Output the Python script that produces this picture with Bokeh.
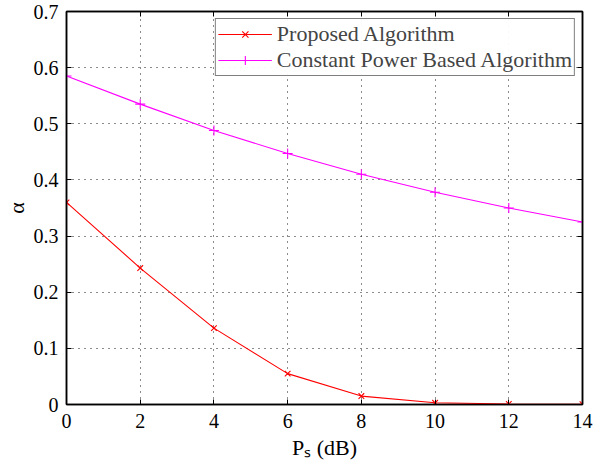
from bokeh.plotting import figure
from bokeh.models import LinearAxis, Range1d, FixedTicker, Legend, LegendItem
from bokeh.embed import file_html
from bokeh.resources import INLINE

ps_db = [0, 2, 4, 6, 8, 10, 12, 14]
proposed = [0.36, 0.243, 0.136, 0.055, 0.015, 0.003, 0.001, 0.0005]
constant = [0.585, 0.535, 0.488, 0.447, 0.41, 0.378, 0.35, 0.325]
x_ticks = [0, 2, 4, 6, 8, 10, 12, 14]
y_ticks = [0, 0.1, 0.2, 0.3, 0.4, 0.5, 0.6, 0.7]

FONT = "Liberation Serif"
TICK_FS = "20px"
TEXT_FS = "22px"

p = figure(width=594, height=465, output_backend="svg", toolbar_location=None,
           x_range=Range1d(0, 14), y_range=Range1d(0, 0.7),
           min_border_left=66, min_border_right=12, min_border_top=11, min_border_bottom=61,
           x_axis_location=None, y_axis_location=None)
p.outline_line_color = "black"
p.outline_line_width = 1.5
p.background_fill_color = "white"
p.border_fill_color = "white"

def make_axis(ticks, labels=True):
    ax = LinearAxis(ticker=FixedTicker(ticks=ticks))
    ax.major_tick_in = 5
    ax.major_tick_out = 0
    ax.minor_tick_in = 0
    ax.minor_tick_out = 0
    ax.axis_line_color = "black"
    ax.axis_line_width = 1.5
    ax.major_tick_line_color = "black"
    ax.major_tick_line_width = 1
    ax.major_label_text_font = FONT
    ax.major_label_text_font_size = TICK_FS
    ax.major_label_text_color = "black"
    ax.axis_label_text_font = FONT
    ax.axis_label_text_font_size = TEXT_FS
    ax.axis_label_text_font_style = "normal"
    ax.axis_label_text_color = "black"
    if not labels:
        ax.major_label_overrides = {t: "" for t in ticks}
        ax.major_label_text_font_size = "1px"
        ax.major_label_standoff = 0
    return ax

xb = make_axis(x_ticks)
xb.major_label_standoff = 9
xb.axis_label = "Pₛ (dB)"
xb.axis_label_standoff = 4
yl = make_axis(y_ticks)
yl.major_label_standoff = 8
yl.axis_label = "α"
yl.axis_label_standoff = 2
p.add_layout(xb, "below")
p.add_layout(yl, "left")
p.add_layout(make_axis(x_ticks, labels=False), "above")
p.add_layout(make_axis(y_ticks, labels=False), "right")

p.xgrid.ticker = FixedTicker(ticks=x_ticks)
p.ygrid.ticker = FixedTicker(ticks=y_ticks)
for g in (p.xgrid, p.ygrid):
    g.grid_line_color = "black"
    g.grid_line_dash = "1 5"
    g.grid_line_width = 1
    g.grid_line_alpha = 0.9

r1l = p.line(ps_db, proposed, line_color="#ff0000", line_width=1.1)
r1m = p.scatter(ps_db, proposed, marker="x", size=8, line_color="#ff0000", line_width=1.1)
r2l = p.line(ps_db, constant, line_color="#ff00ff", line_width=1.1)
r2m = p.scatter(ps_db, constant, marker="cross", size=10, line_color="#ff00ff", line_width=1.1)

leg = Legend(items=[LegendItem(label="Proposed Algorithm", renderers=[r1l, r1m]),
                    LegendItem(label="Constant Power Based Algorithm", renderers=[r2l, r2m])],
             location="top_right")
leg.label_text_font = FONT
leg.label_text_font_size = TEXT_FS
leg.border_line_color = "black"
leg.border_line_width = 1.2
leg.glyph_width = 54
leg.glyph_height = 22
leg.label_standoff = 5
leg.label_height = 22
leg.spacing = 0
leg.padding = 2
leg.margin = 7
p.add_layout(leg)

open("out.html", "w").write(file_html(p, INLINE))
